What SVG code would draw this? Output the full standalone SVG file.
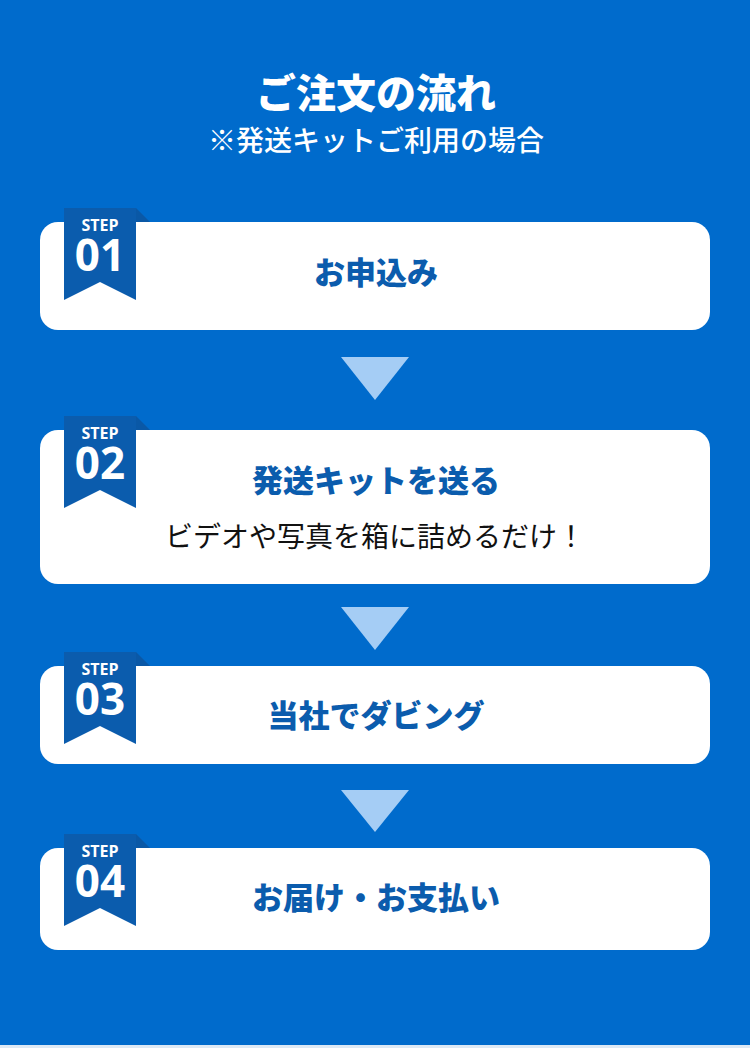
<svg xmlns="http://www.w3.org/2000/svg" width="750" height="1048" viewBox="0 0 750 1048">
<style>
.card{fill:#ffffff}
.rib{fill:#0b5cad}
.fold{fill:#0a58a6}
.arr{fill:#a5cdf5}
.step{font-family:"Open Sans","Noto Sans",sans-serif;font-weight:700;fill:#ffffff;text-anchor:middle}
.s1{font-size:16px}
.s2{font-size:44px}
.h{font-family:"Noto Sans CJK JP","Noto Sans",sans-serif;font-weight:900;fill:#0b5cad;text-anchor:middle;font-size:31px}
.sub{font-family:"Noto Sans CJK JP","Noto Sans",sans-serif;font-weight:400;fill:#111111;text-anchor:middle;font-size:28px}
.t1{font-family:"Noto Sans CJK JP","Noto Sans",sans-serif;font-weight:900;fill:#ffffff;text-anchor:middle;font-size:40px}
.t2{font-family:"Noto Sans CJK JP","Noto Sans",sans-serif;font-weight:500;fill:#ffffff;text-anchor:middle;font-size:28px}
</style>
<rect x="0" y="0" width="750" height="1048" fill="#006bcc"/>
<rect x="0" y="1045" width="750" height="3" fill="#dde9f5"/>
<g id="title">
<text class="t1" x="376" y="108">ご注文の流れ</text>
<text class="t2" x="376" y="151">※発送キットご利用の場合</text>
</g>
<g id="connectors">
<polygon class="arr" points="341,357 409,357 375,400"/>
<polygon class="arr" points="341,607 409,607 375,650"/>
<polygon class="arr" points="341,790 409,790 375,832"/>
</g>
<g id="step1">
<rect class="card" x="40" y="222" width="670" height="108" rx="18"/>
<polygon class="fold" points="136,208 150,222 136,222"/>
<polygon class="rib" points="64,208 136,208 136,300 100,282 64,300"/>
<text class="step s1" x="100" y="231">STEP</text>
<text class="step s2" x="100" y="271">01</text>
<text class="h" x="376" y="284">お申込み</text>
</g>
<g id="step2">
<rect class="card" x="40" y="430" width="670" height="154" rx="18"/>
<polygon class="fold" points="136,416 150,430 136,430"/>
<polygon class="rib" points="64,416 136,416 136,508 100,490 64,508"/>
<text class="step s1" x="100" y="439">STEP</text>
<text class="step s2" x="100" y="479">02</text>
<text class="h" x="376" y="492">発送キットを送る</text>
<text class="sub" x="375" y="547">ビデオや写真を箱に詰めるだけ！</text>
</g>
<g id="step3">
<rect class="card" x="40" y="666" width="670" height="98" rx="18"/>
<polygon class="fold" points="136,652 150,666 136,666"/>
<polygon class="rib" points="64,652 136,652 136,744 100,726 64,744"/>
<text class="step s1" x="100" y="675">STEP</text>
<text class="step s2" x="100" y="715">03</text>
<text class="h" x="376" y="727">当社でダビング</text>
</g>
<g id="step4">
<rect class="card" x="40" y="848" width="670" height="102" rx="18"/>
<polygon class="fold" points="136,834 150,848 136,848"/>
<polygon class="rib" points="64,834 136,834 136,926 100,908 64,926"/>
<text class="step s1" x="100" y="857">STEP</text>
<text class="step s2" x="100" y="897">04</text>
<text class="h" x="376" y="909">お届け・お支払い</text>
</g>
</svg>
